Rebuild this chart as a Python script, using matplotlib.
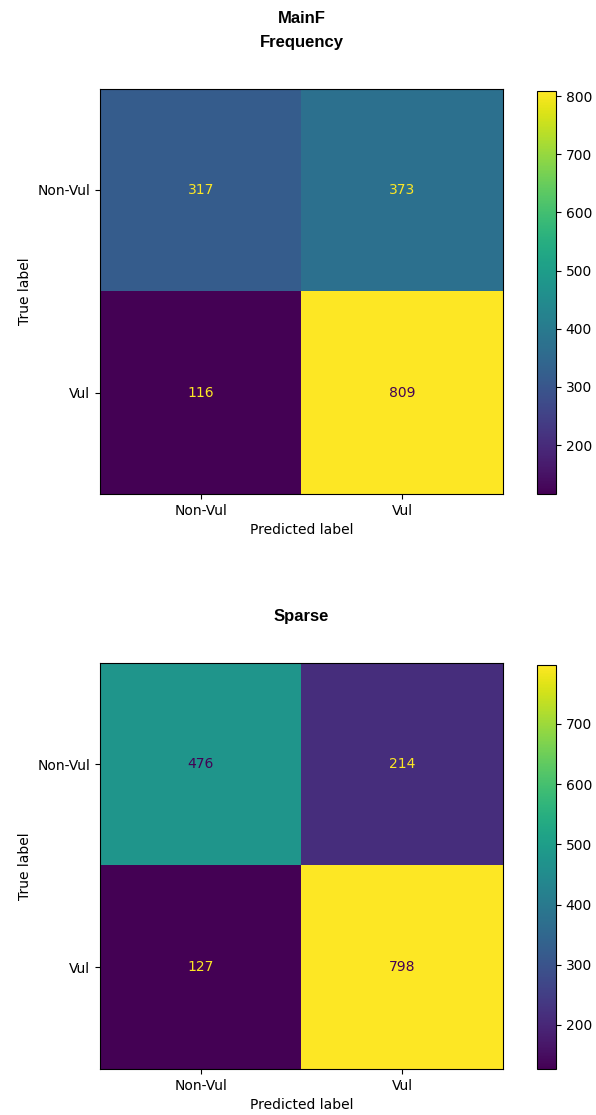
import matplotlib.pyplot as plt
import numpy as np

labels = ["Non-Vul", "Vul"]

mainf_counts = np.array([[317, 373],
                         [116, 809]])
sparse_counts = np.array([[476, 214],
                          [127, 798]])

panels = [("MainF\nFrequency", mainf_counts), ("Sparse", sparse_counts)]

fig = plt.figure(figsize=(5.96, 11.15), dpi=100)

# axes boxes (left, bottom, width, height) in figure fractions
main_boxes = [[0.168, 0.557, 0.676, 0.3635], [0.168, 0.0413, 0.676, 0.3645]]
cbar_boxes = [[0.901, 0.557, 0.032, 0.3615], [0.901, 0.0413, 0.032, 0.3625]]

cmap = plt.get_cmap("viridis")

for (title, cm), box, cbox in zip(panels, main_boxes, cbar_boxes):
    ax = fig.add_axes(box)
    im = ax.imshow(cm, cmap=cmap, aspect="auto", interpolation="nearest")
    thresh = (cm.max() + cm.min()) / 2.0
    for i in range(cm.shape[0]):
        for j in range(cm.shape[1]):
            color = cmap(0) if cm[i, j] > thresh else cmap(1.0)
            ax.text(j, i, str(cm[i, j]), ha="center", va="center",
                    color=color, fontsize=10)
    ax.set_xticks(range(len(labels)))
    ax.set_xticklabels(labels)
    ax.set_yticks(range(len(labels)))
    ax.set_yticklabels(labels)
    ax.set_xlabel("Predicted label")
    ax.set_ylabel("True label")
    ax.set_title(title, fontsize=12, fontweight="bold",
                 family="Liberation Sans", pad=30, linespacing=1.75)

    cax = fig.add_axes(cbox)
    fig.colorbar(im, cax=cax)

plt.savefig("out.png", dpi=100)
